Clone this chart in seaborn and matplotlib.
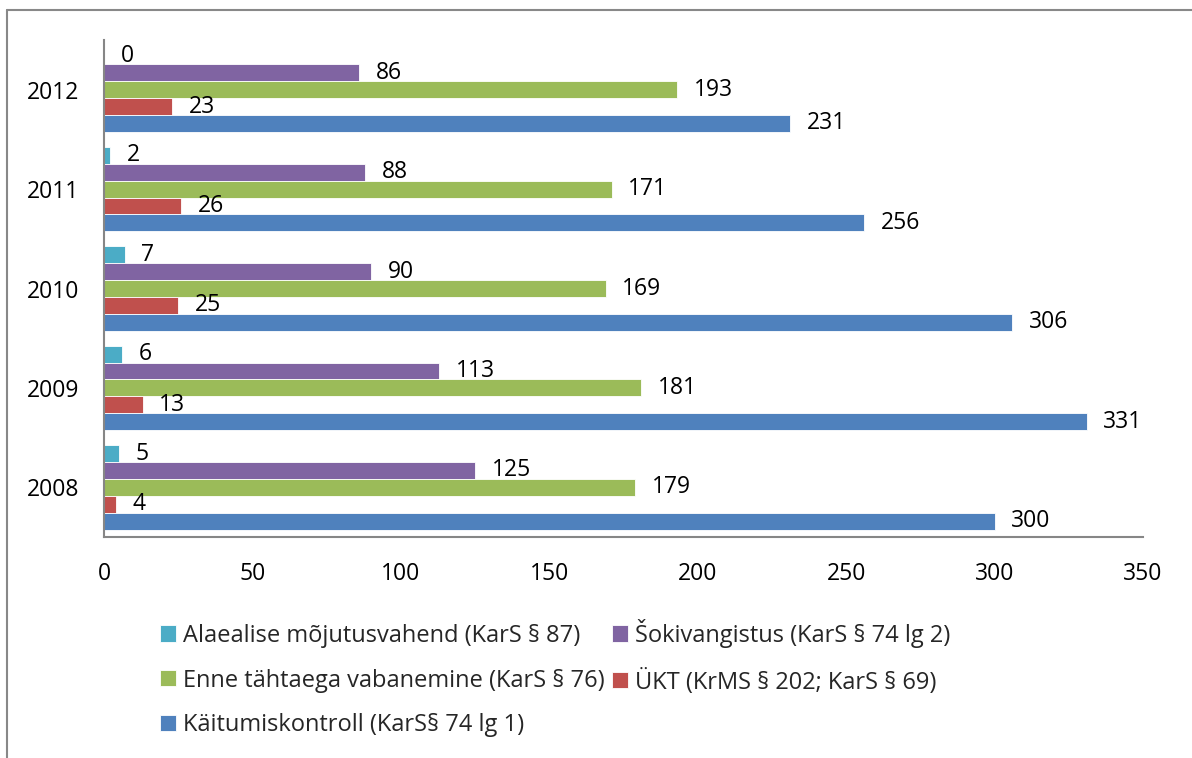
import pandas as pd
import matplotlib.pyplot as plt
import seaborn as sns
from matplotlib.lines import Line2D

# Data
years = ['2012', '2011', '2010', '2009', '2008']
series = ['Alaealise mõjutusvahend (KarS § 87)',
          'Šokivangistus (KarS § 74 lg 2)',
          'Enne tähtaega vabanemine (KarS § 76)',
          'ÜKT (KrMS § 202; KarS § 69)',
          'Käitumiskontroll (KarS§ 74 lg 1)']
alaealise = [0, 2, 7, 6, 5]
sokivangistus = [86, 88, 90, 113, 125]
enne_tahtaega = [193, 171, 169, 181, 179]
ukt = [23, 26, 25, 13, 4]
kaitumiskontroll = [231, 256, 306, 331, 300]
colors = ['#4BACC6', '#8064A2', '#9BBB59', '#C0504D', '#4F81BD']

values = [alaealise, sokivangistus, enne_tahtaega, ukt, kaitumiskontroll]
rows = []
for name, vals in zip(series, values):
    for y, v in zip(years, vals):
        rows.append({'Aasta': y, 'Liik': name, 'Arv': v})
df = pd.DataFrame(rows)

sns.set_style('white')
plt.rcParams['font.family'] = ['Open Sans', 'DejaVu Sans']
fs = 16.5

fig = plt.figure(figsize=(11.92, 7.58), dpi=100)
ax = fig.add_axes([104 / 1192, 1 - 537 / 758, (1143 - 104) / 1192, (537 - 40) / 758])

sns.barplot(data=df, y='Aasta', x='Arv', hue='Liik', order=years, hue_order=series,
            palette=colors, orient='h', width=0.85, ax=ax, legend=True,
            edgecolor='white', linewidth=0.6, saturation=1)

for cont in ax.containers:
    ax.bar_label(cont, labels=[f'{int(w)}' for w in cont.datavalues],
                 padding=12, fontsize=fs, color='black')

ax.set_xlim(0, 350)
ax.set_xticks(range(0, 351, 50))
ax.set_xlabel('')
ax.set_ylabel('')
ax.tick_params(axis='both', length=0, labelsize=fs, colors='black')
ax.tick_params(axis='x', pad=18)
ax.tick_params(axis='y', pad=18)
sns.despine(ax=ax, top=True, right=True)
for s in ['left', 'bottom']:
    ax.spines[s].set_color('#868686')
    ax.spines[s].set_linewidth(1.5)

# legend below the plot, filled row by row
handles, labels = ax.get_legend_handles_labels()
ax.get_legend().remove()
order = [0, 2, 4, 1, 3]
fig.legend([handles[i] for i in order], [labels[i] for i in order],
           loc='upper left', bbox_to_anchor=(148 / 1192, 1 - 607 / 758),
           ncol=2, frameon=False, fontsize=17, handlelength=0.68, handleheight=0.68,
           handletextpad=0.3, columnspacing=0.3, labelspacing=0.88, borderpad=0)

# outer chart frame
fig.add_artist(Line2D([7 / 1192, 1], [1 - 10 / 758, 1 - 10 / 758], color='#888888', lw=1.5))
fig.add_artist(Line2D([7 / 1192, 7 / 1192], [0, 1 - 10 / 758], color='#888888', lw=1.5))

fig.savefig('out.png', dpi=100)
